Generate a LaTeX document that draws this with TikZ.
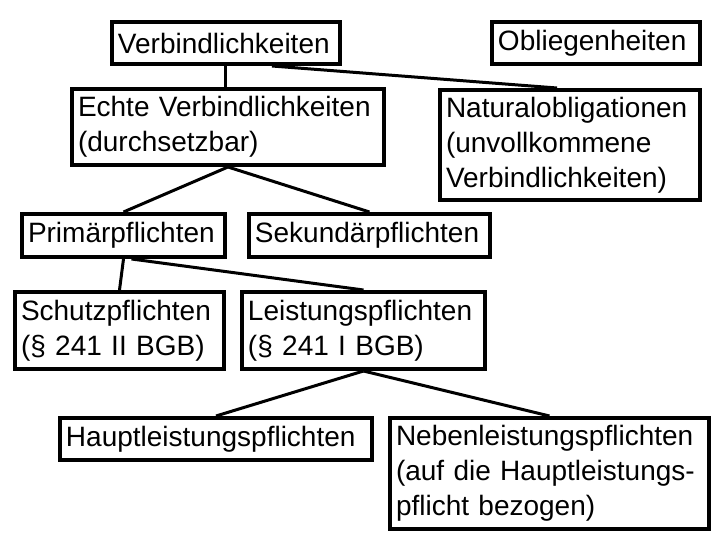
\documentclass[tikz,border=0pt]{standalone}
\usepackage{fontspec}
\setmainfont{Liberation Sans}
\usetikzlibrary{positioning}

\begin{document}
\begin{tikzpicture}[x=0.5pt, y=-0.5pt,
    box/.style={draw, line width=2pt, anchor=north west, align=left,
                inner xsep=3pt, inner ysep=2pt,
                font=\fontsize{14pt}{17.5pt}\selectfont},
    link/.style={line width=1.5pt}]
    \useasboundingbox (0,0) rectangle (720,540);
    % Top level
    \node[box, text width=108pt, minimum height=21pt] (verb) at (110, 20) {Verbindlichkeiten};
    \node[box, text width=98pt, minimum height=21pt] (oblieg) at (490, 20) {Obliegenheiten};
    % Second level
    \node[box, text width=150pt, minimum height=38pt] (echte) at (70, 87) {Echte Verbindlichkeiten\\(durchsetzbar)};
    \node[box, text width=124pt, minimum height=55pt] (natural) at (438, 88) {Naturalobligationen\\(unvollkommene\\Verbindlichkeiten)};
    % Third level
    \node[box, text width=95.5pt, minimum height=21.5pt] (primaer) at (20, 212) {Primärpflichten};
    \node[box, text width=114.5pt, minimum height=21.5pt] (sekundaer) at (247, 212) {Sekundärpflichten};
    % Fourth level
    \node[box, text width=98.5pt, minimum height=38.5pt] (schutz) at (13, 290) {Schutzpflichten\\(§ 241 II BGB)};
    \node[box, text width=115.5pt, minimum height=38.5pt] (leistung) at (240, 290) {Leistungspflichten\\(§ 241 I BGB)};
    % Fifth level
    \node[box, text width=150pt, minimum height=21pt] (haupt) at (58, 416) {Hauptleistungspflichten};
    \node[box, text width=153.5pt, minimum height=55.5pt] (neben) at (388, 416) {Nebenleistungspflichten\\(auf die Hauptleistungs-\\pflicht bezogen)};
    % Tree
    \draw[link] (verb.south) -- (verb.south |- echte.north);
    \draw[link] ([xshift=23pt]verb.south) -- ([xshift=-6.5pt]natural.north);
    \draw[link] (echte.south) -- (primaer.north);
    \draw[link] (echte.south) -- (sekundaer.north);
    \draw[link] (primaer.south) -- (schutz.north);
    \draw[link] ([xshift=4pt]primaer.south) -- (leistung.north);
    \draw[link] (leistung.south) -- (haupt.north);
    \draw[link] (leistung.south) -- (neben.north);
\end{tikzpicture}
\end{document}
